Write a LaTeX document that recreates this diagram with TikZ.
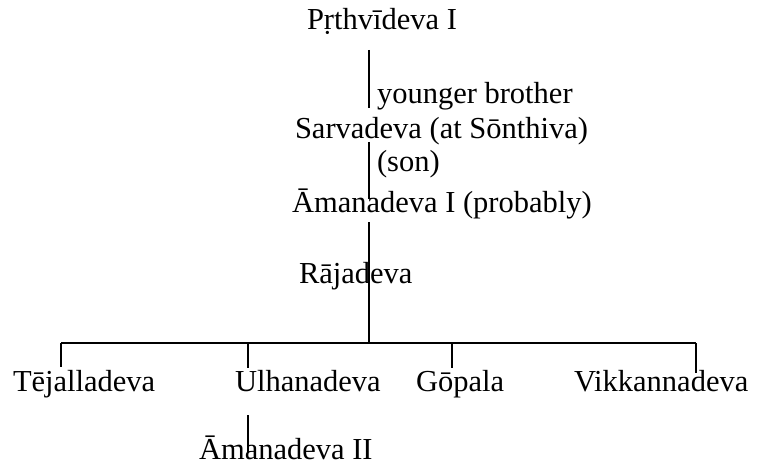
\documentclass[tikz,border=0pt]{standalone}
\usepackage{fontspec}
\setmainfont{Liberation Serif}
\begin{document}
\begin{tikzpicture}[x=1pt,y=-1pt,
  person/.style={anchor=base west,inner sep=0pt,outer sep=0pt,font=\fontsize{30.5}{36}\selectfont},
  link/.style={draw=black,line width=1.2pt}]
\useasboundingbox (0,0) rectangle (759,470);
% persons
\node[person] (prth) at (307,30) {Pṛthvīdeva I};
\node[person] (yb) at (377,104) {younger brother};
\node[person] (sarva) at (295,139) {Sarvadeva (at Sōnthiva)};
\node[person] (son) at (377,172) {(son)};
\node[person] (aman1) at (292,213) {Āmanadeva I (probably)};
\node[person] (raja) at (299,283) {Rājadeva};
\node[person] (teja) at (13,391) {Tējalladeva};
\node[person] (ulha) at (235,391) {Ulhanadeva};
\node[person] (gopa) at (416,391) {Gōpala};
\node[person] (vikk) at (574,391) {Vikkannadeva};
\node[person] (aman2) at (199,459) {Āmanadeva II};
% connector ends
\coordinate (p1) at (369,50);
\coordinate (s1) at (369,108);
\coordinate (s2) at (369,142);
\coordinate (a1) at (369,199);
\coordinate (a2) at (369,222);
\coordinate (j) at (369,343);
\coordinate (jt) at (61,343);
\coordinate (jv) at (696,343);
\coordinate (tt) at (61,367);
\coordinate (ju) at (248,343);
\coordinate (ut) at (248,368);
\coordinate (jg) at (452,343);
\coordinate (gt) at (452,368);
\coordinate (vt) at (696,373);
\coordinate (ub) at (248,415);
\coordinate (at) at (248,453);
% connectors
\draw[link] (p1) -- (s1);
\draw[link] (s2) -- (a1);
\draw[link] (a2) -- (j);
\draw[link] (jt) -- (jv);
\draw[link] (jt) -- (tt);
\draw[link] (ju) -- (ut);
\draw[link] (jg) -- (gt);
\draw[link] (jv) -- (vt);
\draw[link] (ub) -- (at);
\end{tikzpicture}
\end{document}
